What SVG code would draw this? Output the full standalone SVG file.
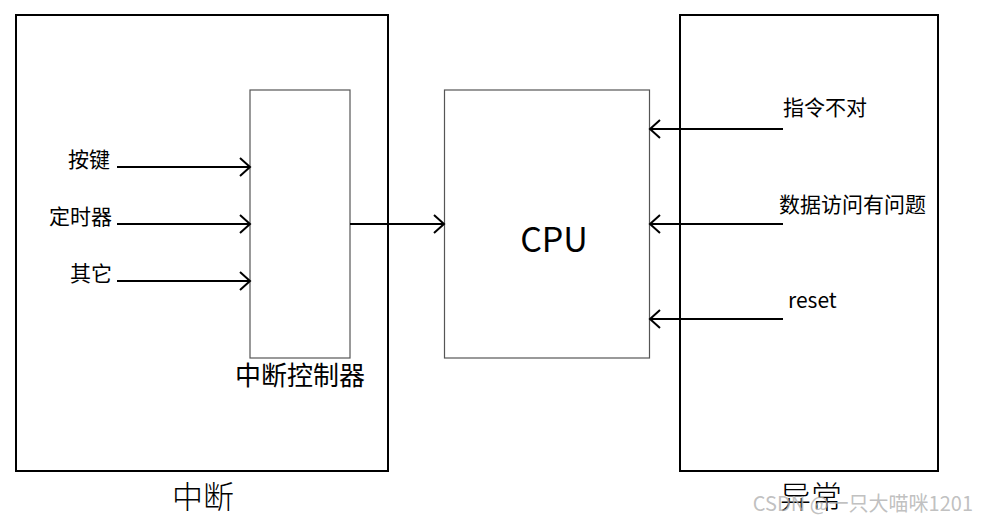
<svg xmlns="http://www.w3.org/2000/svg" width="990" height="523" viewBox="0 0 990 523">
<style>
.outer{fill:#fff;stroke:#000;stroke-width:2}
.inner{fill:#fff;stroke:#555;stroke-width:1.2}
.conn{stroke:#000;stroke-width:2;fill:none}
.t{font-family:"Noto Sans CJK SC","Noto Sans",sans-serif;fill:#000}
.s{font-family:"Noto Sans CJK SC",serif;fill:#000;font-weight:300}
</style>
<defs>
<marker id="ah" markerWidth="14" markerHeight="20" refX="12" refY="10" orient="auto" markerUnits="userSpaceOnUse">
<path d="M2,1 L12,10 L2,19" fill="none" stroke="#000" stroke-width="2"/>
</marker>
</defs>
<rect width="990" height="523" fill="#fff"/>
<g id="interrupt">
<rect class="outer" x="16" y="15" width="372" height="456"/>
<text class="s" x="203" y="508" font-size="31" text-anchor="middle">中断</text>
</g>
<g id="controller">
<rect class="inner" x="250" y="90" width="100" height="268"/>
<text class="t" x="300" y="385" font-size="26" text-anchor="middle">中断控制器</text>
</g>
<g id="cpu">
<rect class="inner" x="444.5" y="90" width="205" height="268"/>
<text class="t" x="554" y="252" font-size="34" text-anchor="middle">CPU</text>
</g>
<g id="exception">
<rect class="outer" x="680" y="15" width="258" height="456"/>
<text class="s" x="811" y="508" font-size="31" text-anchor="middle">异常</text>
</g>
<g id="labels">
<text class="t" x="110" y="167" font-size="21" text-anchor="end">按键</text>
<text class="t" x="112" y="224" font-size="21" text-anchor="end">定时器</text>
<text class="t" x="112" y="281" font-size="21" text-anchor="end">其它</text>
<text class="t" x="783" y="115" font-size="21">指令不对</text>
<text class="t" x="779" y="212" font-size="21">数据访问有问题</text>
<text class="t" x="788" y="308" font-size="21">reset</text>
</g>
<g id="connectors">
<line class="conn" x1="117" y1="167" x2="250" y2="167" marker-end="url(#ah)"/>
<line class="conn" x1="117" y1="224" x2="250" y2="224" marker-end="url(#ah)"/>
<line class="conn" x1="117" y1="281" x2="250" y2="281" marker-end="url(#ah)"/>
<line class="conn" x1="350" y1="224" x2="444" y2="224" marker-end="url(#ah)"/>
<line class="conn" x1="783" y1="129" x2="650" y2="129" marker-end="url(#ah)"/>
<line class="conn" x1="783" y1="224" x2="650" y2="224" marker-end="url(#ah)"/>
<line class="conn" x1="783" y1="319" x2="650" y2="319" marker-end="url(#ah)"/>
</g>
<text x="973" y="511" font-size="20" text-anchor="end" fill="#b0b0b0" fill-opacity="0.8" font-family="'Noto Sans CJK SC',sans-serif">CSDN @一只大喵咪1201</text>
</svg>
